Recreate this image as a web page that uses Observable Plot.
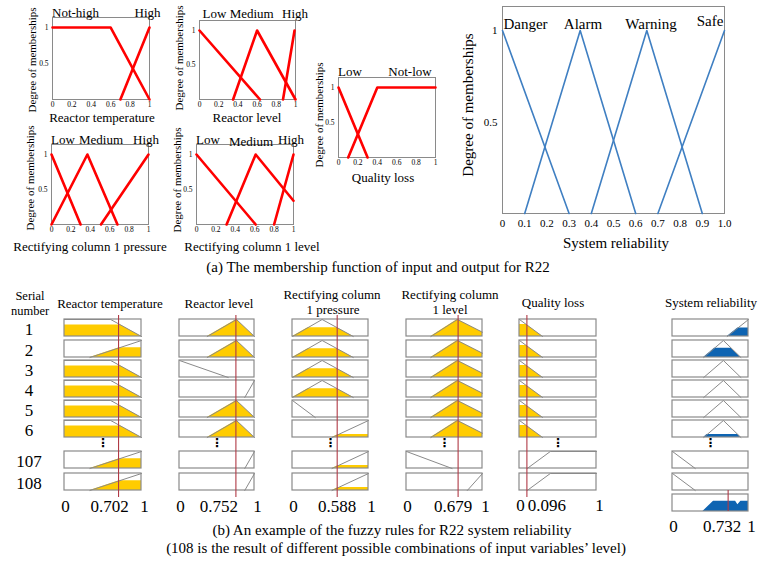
<!DOCTYPE html>
<html><head><meta charset="utf-8">
<script src="https://cdn.jsdelivr.net/npm/d3@7"></script>
<script src="https://cdn.jsdelivr.net/npm/@observablehq/plot@0.6"></script>
<style>
body{margin:0;background:#fff;}
#fig{position:relative;width:760px;height:562px;overflow:hidden;background:#fff;font-family:"Liberation Serif","Times New Roman",serif;color:#000;}
.lbl{position:absolute;white-space:nowrap;line-height:1;transform:translate(-50%,-50%);}
.rot{transform:translate(-50%,-50%) rotate(-90deg);}
svg{position:absolute;}
</style></head><body><div id="fig"></div>
<script>
// ---------------- DATA ----------------
// (a) membership functions: breakpoints {set, x, mu}
const reactorTempSets = ["Not-high", "High"];
const reactorTempMF = [
  {set:"Not-high", x:0, mu:1}, {set:"Not-high", x:0.6, mu:1}, {set:"Not-high", x:1, mu:0},
  {set:"High", x:0.7, mu:0}, {set:"High", x:1, mu:1}
];
const reactorLevelSets = ["Low", "Medium", "High"];
const reactorLevelMF = [
  {set:"Low", x:0, mu:1}, {set:"Low", x:0.63, mu:0},
  {set:"Medium", x:0.35, mu:0}, {set:"Medium", x:0.6, mu:1}, {set:"Medium", x:1, mu:0},
  {set:"High", x:0.87, mu:0}, {set:"High", x:0.99, mu:1}
];
const pressureSets = ["Low", "Medium", "High"];
const pressureMF = [
  {set:"Low", x:0, mu:1}, {set:"Low", x:0.3, mu:0},
  {set:"Medium", x:0, mu:0}, {set:"Medium", x:0.37, mu:1}, {set:"Medium", x:0.68, mu:0},
  {set:"High", x:0.51, mu:0}, {set:"High", x:1, mu:1}
];
const columnLevelSets = ["Low", "Medium", "High"];
const columnLevelMF = [
  {set:"Low", x:0, mu:1}, {set:"Low", x:0.61, mu:0},
  {set:"Medium", x:0.31, mu:0}, {set:"Medium", x:0.61, mu:1}, {set:"Medium", x:1, mu:0.34},
  {set:"High", x:0.8, mu:0}, {set:"High", x:1, mu:1}
];
const qualitySets = ["Low", "Not-low"];
const qualityMF = [
  {set:"Low", x:0, mu:1}, {set:"Low", x:0.3, mu:0},
  {set:"Not-low", x:0.1, mu:0}, {set:"Not-low", x:0.4, mu:1}, {set:"Not-low", x:1, mu:1}
];
const systemSets = ["Danger", "Alarm", "Warning", "Safe"];
const systemMF = [
  {set:"Danger", x:0, mu:1}, {set:"Danger", x:0.3, mu:0},
  {set:"Alarm", x:0.1, mu:0}, {set:"Alarm", x:0.35, mu:1}, {set:"Alarm", x:0.6, mu:0},
  {set:"Warning", x:0.4, mu:0}, {set:"Warning", x:0.65, mu:1}, {set:"Warning", x:0.9, mu:0},
  {set:"Safe", x:0.7, mu:0}, {set:"Safe", x:1, mu:1}
];
const inputTicks = [0, 0.2, 0.4, 0.6, 0.8, 1];
const inputTickLabels = ["0", "0.2", "0.4", "0.6", "0.8", "1"];
const systemTicks = [0, 0.1, 0.2, 0.3, 0.4, 0.5, 0.6, 0.7, 0.8, 0.9, 1];
const systemTickLabels = ["0", "0.1", "0.2", "0.3", "0.4", "0.5", "0.6", "0.7", "0.8", "0.9", "1.0"];
const degreeTicks = [0.5, 1];
const degreeTickLabels = ["0.5", "1"];

// (b) rule viewer
const serialNumbers = ["1", "2", "3", "4", "5", "6", "107", "108"];
const inputValues = [0.702, 0.752, 0.588, 0.679, 0.096];
const inputValueLabels = ["0.702", "0.752", "0.588", "0.679", "0.096"];
const outputValue = 0.732;
const outputValueLabel = "0.732";

const rvTempMF = [
  {set:"Not-high", x:0, mu:1}, {set:"Not-high", x:0.6, mu:1}, {set:"Not-high", x:1, mu:0},
  {set:"High", x:0.33, mu:0}, {set:"High", x:1, mu:1}
];
const rvTempRules = ["Not-high", "High", "Not-high", "Not-high", "Not-high", "Not-high", "High", "High"];
const rvTempDegree = [0.68, 0.57, 0.68, 0.68, 0.68, 0.68, 0.57, 0.57];

const rvLevelMF = [
  {set:"Low", x:0, mu:1}, {set:"Low", x:0.65, mu:0},
  {set:"Medium", x:0.37, mu:0}, {set:"Medium", x:0.76, mu:1}, {set:"Medium", x:1, mu:0},
  {set:"High", x:0.87, mu:0}, {set:"High", x:1, mu:1}
];
const rvLevelRules = ["Medium", "Medium", "Low", "High", "Medium", "Medium", "High", "High"];
const rvLevelDegree = [1, 1, 0, 0, 1, 1, 0, 0];

const rvPressureMF = [
  {set:"Low", x:0, mu:1}, {set:"Low", x:0.3, mu:0},
  {set:"Medium", x:0, mu:0}, {set:"Medium", x:0.39, mu:1}, {set:"Medium", x:0.8, mu:0},
  {set:"High", x:0.52, mu:0}, {set:"High", x:1, mu:1}
];
const rvPressureRules = ["Medium", "Medium", "Medium", "Medium", "Low", "High", "High", "High"];
const rvPressureDegree = [0.52, 0.52, 0.52, 0.52, 0, 0.18, 0.18, 0.18];

const rvColumnLevelMF = [
  {set:"Low", x:0, mu:1}, {set:"Low", x:0.6, mu:0},
  {set:"Medium", x:0.32, mu:0}, {set:"Medium", x:0.67, mu:1}, {set:"Medium", x:1, mu:0.25},
  {set:"High", x:0.8, mu:0}, {set:"High", x:1, mu:1}
];
const rvColumnLevelRules = ["Medium", "Medium", "Medium", "Medium", "Medium", "Medium", "Low", "High"];
const rvColumnLevelDegree = [1, 1, 1, 1, 1, 1, 0, 0];

const rvQualityMF = [
  {set:"Low", x:0, mu:1}, {set:"Low", x:0.3, mu:0},
  {set:"Not-low", x:0.1, mu:0}, {set:"Not-low", x:0.4, mu:1}, {set:"Not-low", x:1, mu:1}
];
const rvQualityRules = ["Low", "Low", "Low", "Low", "Low", "Low", "Not-low", "Not-low"];
const rvQualityDegree = [0.7, 0.7, 0.7, 0.7, 0.7, 0.7, 0, 0];

const rvSystemMF = [
  {set:"Danger", x:0, mu:1}, {set:"Danger", x:0.3, mu:0},
  {set:"Warning", x:0.41, mu:0}, {set:"Warning", x:0.67, mu:1}, {set:"Warning", x:0.9, mu:0},
  {set:"Safe", x:0.72, mu:0}, {set:"Safe", x:1, mu:1}
];
const rvSystemRules = ["Safe", "Warning", "Warning", "Warning", "Warning", "Warning", "Danger", "Danger"];
const rvSystemDegree = [0.5, 0.55, 0, 0, 0, 0.17, 0, 0];
const systemAggregate = [
  {x:0.40, mu:0}, {x:0.54, mu:0.6}, {x:0.83, mu:0.6}, {x:0.86, mu:0.4},
  {x:0.90, mu:0.6}, {x:1, mu:0.6}
];

// ---------------- LAYOUT / STYLE ----------------
const FONT = '"Liberation Serif","Times New Roman",serif';
const RED = "#ff0000", BLUE = "#3f7fc2", YELLOW = "#ffcc00", DEEPBLUE = "#0e64b2";
const GRAY = "#8a8a8a", RULE = "#b03a46";
const fig = document.getElementById("fig");

function T(text, x, y, size, rot) {
  const d = document.createElement("div");
  d.className = "lbl" + (rot ? " rot" : "");
  d.textContent = text;
  d.style.left = x + "px"; d.style.top = y + "px"; d.style.fontSize = size + "px";
  fig.appendChild(d);
}
function put(svg, left, top) {
  svg.style.left = left + "px"; svg.style.top = top + "px";
  fig.appendChild(svg);
}

// ---- (a) panels ----
function mfPanel(data, o) {
  const ml = 34, mr = 10, mt = 2, mb = 20;
  const svg = Plot.plot({
    width: o.w + ml + mr, height: o.h + mt + mb,
    marginLeft: ml, marginRight: mr, marginTop: mt, marginBottom: mb,
    x: {domain: [0, 1], label: null}, y: {domain: [0, o.yTop], label: null},
    style: {background: "transparent", overflow: "visible", fontFamily: FONT},
    marks: [
      Plot.frame({stroke: GRAY, strokeWidth: 1}),
      Plot.axisX({ticks: o.xTicks, tickFormat: d => o.xLabels[o.xTicks.indexOf(d)], tickSize: 0,
        tickPadding: o.xPad, fontSize: o.tickFont, fontFamily: FONT, label: null}),
      Plot.axisY({ticks: degreeTicks, tickFormat: d => degreeTickLabels[degreeTicks.indexOf(d)], tickSize: 0,
        tickPadding: o.yPad, fontSize: o.tickFont, fontFamily: FONT, label: null}),
      Plot.line(data, {x: "x", y: "mu", z: "set", stroke: o.color, strokeWidth: o.sw})
    ]
  });
  put(svg, o.x - ml, o.y - mt);
}
const small = {xTicks: inputTicks, xLabels: inputTickLabels, xPad: 2, yPad: 4, tickFont: 7.5, color: RED, sw: 2.6};
mfPanel(reactorTempMF, {...small, x: 52, y: 17, w: 97, h: 82, yTop: 1.14});
mfPanel(reactorLevelMF, {...small, x: 199, y: 20, w: 96, h: 79, yTop: 1.145});
mfPanel(pressureMF, {...small, x: 51, y: 144, w: 97, h: 80, yTop: 1.143});
mfPanel(columnLevelMF, {...small, x: 196, y: 144, w: 97, h: 80, yTop: 1.143});
mfPanel(qualityMF, {...small, x: 338, y: 77, w: 97, h: 80, yTop: 1.143});
mfPanel(systemMF, {xTicks: systemTicks, xLabels: systemTickLabels, xPad: 6, yPad: 5, tickFont: 11,
  color: BLUE, sw: 1.6, x: 502, y: 6, w: 222, h: 207, yTop: 1.131});

// (a) texts
T(reactorTempSets[0], 75.5, 12, 13); T(reactorTempSets[1], 147.5, 12, 13);
T("Reactor temperature", 102, 117, 13); T("Degree of memberships", 32, 60, 11, true);
T(reactorLevelSets[0], 214.5, 13, 13); T(reactorLevelSets[1], 251.7, 13, 13); T(reactorLevelSets[2], 295, 13, 13);
T("Reactor level", 247, 117, 13); T("Degree of memberships", 179, 58, 11, true);
T(pressureSets[0], 63, 139, 13); T(pressureSets[1], 101, 139, 13); T(pressureSets[2], 146, 139, 13);
T("Rectifying column 1 pressure", 90, 246, 13); T("Degree of memberships", 30, 178, 11, true);
T(columnLevelSets[0], 208, 139, 13); T(columnLevelSets[1], 251, 141, 13); T(columnLevelSets[2], 291, 139, 13);
T("Rectifying column 1 level", 252, 246, 13); T("Degree of memberships", 177, 180, 11, true);
T(qualitySets[0], 350, 71, 13); T(qualitySets[1], 410, 71, 13);
T("Quality loss", 383, 177, 13); T("Degree of memberships", 319, 115, 11, true);
T(systemSets[0], 525.5, 24, 15); T(systemSets[1], 583, 24, 15); T(systemSets[2], 651, 24, 15); T(systemSets[3], 710, 21, 15);
T("System reliability", 616, 243, 15); T("Degree of memberships", 468, 105, 15, true);
T("(a) The membership function of input and output for R22", 378, 267, 15);

// ---- (b) rule viewer ----
const P0 = 300, P1 = 540, BOXH = 17;
const rowTops = [319, 340, 360, 380, 400, 420, 451, 473];
const aggTop = 494;
const off = top => (P1 - (top + BOXH)) / BOXH;
const ypx = py => (P1 - py) / BOXH;

function clip(pts, s) {
  const out = [];
  pts.forEach((p, i) => {
    if (i > 0) {
      const q = pts[i - 1];
      if ((q.mu - s) * (p.mu - s) < 0) {
        const t = (s - q.mu) / (p.mu - q.mu);
        out.push({x: q.x + t * (p.x - q.x), mu: s});
      }
    }
    out.push({x: p.x, mu: Math.min(p.mu, s)});
  });
  return out;
}

function ruleColumn(o) {
  const [l, r] = o.box;
  const lines = [], fills = [], boxes = [];
  o.rules.forEach((s, i) => {
    const base = off(rowTops[i]);
    boxes.push({y1: base, y2: base + 1});
    const pts = o.mf.filter(d => d.set === s);
    pts.forEach(p => lines.push({row: i, x: p.x, y: base + p.mu}));
    if (o.degree[i] > 0)
      clip(pts, o.degree[i]).forEach(p => fills.push({row: i, x: p.x, y1: base, y2: base + p.mu}));
  });
  if (o.aggregate) {
    const base = off(aggTop);
    boxes.push({y1: base, y2: base + 1});
    o.aggregate.forEach(p => fills.push({row: 99, x: p.x, y1: base, y2: base + p.mu}));
  }
  const ml = 40, mr = 40;
  const marks = [
    Plot.areaY(fills, {x: "x", y1: "y1", y2: "y2", z: "row", fill: o.fill}),
    Plot.line(lines, {x: "x", y: "y", z: "row", stroke: GRAY, strokeWidth: 1}),
    Plot.rect(boxes, {x1: () => 0, x2: () => 1, y1: "y1", y2: "y2", fill: "none", stroke: GRAY, strokeWidth: 1.2}),
    Plot.ruleX([o.value], {x: d => d, y1: () => ypx(o.ruleTop), y2: () => ypx(o.ruleBottom), stroke: RULE, strokeWidth: 1.1}),
    Plot.text(["⋮"], {x: () => 0.5, y: () => ypx(443), fontSize: 12, fontWeight: "bold", fontFamily: "DejaVu Sans", fill: "#000"}),
    Plot.text(["0"], {x: () => 0, y: () => ypx(o.tickY), fontSize: 17, dx: 1}),
    Plot.text([o.valueLabel], {x: () => o.value, y: () => ypx(o.tickY), fontSize: 17, dx: o.valueDx}),
    Plot.text(["1"], {x: () => 1, y: () => ypx(o.tickY), fontSize: 17, dx: 3})
  ];
  const svg = Plot.plot({
    width: (r - l) + ml + mr, height: P1 - P0,
    marginLeft: ml, marginRight: mr, marginTop: 0, marginBottom: 0,
    x: {domain: [0, 1]}, y: {domain: [0, (P1 - P0) / BOXH]}, axis: null,
    style: {background: "transparent", overflow: "visible", fontFamily: FONT, color: "#000"},
    marks
  });
  put(svg, l - ml, P0);
}

ruleColumn({box: [64, 141], mf: rvTempMF, rules: rvTempRules, degree: rvTempDegree, fill: YELLOW,
  value: inputValues[0], valueLabel: inputValueLabels[0], valueDx: -9, ruleTop: 315, ruleBottom: 497, tickY: 506});
ruleColumn({box: [179, 254], mf: rvLevelMF, rules: rvLevelRules, degree: rvLevelDegree, fill: YELLOW,
  value: inputValues[1], valueLabel: inputValueLabels[1], valueDx: -17, ruleTop: 315, ruleBottom: 497, tickY: 506});
ruleColumn({box: [292, 368], mf: rvPressureMF, rules: rvPressureRules, degree: rvPressureDegree, fill: YELLOW,
  value: inputValues[2], valueLabel: inputValueLabels[2], valueDx: 0, ruleTop: 315, ruleBottom: 497, tickY: 506});
ruleColumn({box: [406, 482], mf: rvColumnLevelMF, rules: rvColumnLevelRules, degree: rvColumnLevelDegree, fill: YELLOW,
  value: inputValues[3], valueLabel: inputValueLabels[3], valueDx: -5, ruleTop: 315, ruleBottom: 497, tickY: 506});
ruleColumn({box: [519, 596], mf: rvQualityMF, rules: rvQualityRules, degree: rvQualityDegree, fill: YELLOW,
  value: inputValues[4], valueLabel: inputValueLabels[4], valueDx: 20, ruleTop: 315, ruleBottom: 497, tickY: 505});
ruleColumn({box: [672, 748], mf: rvSystemMF, rules: rvSystemRules, degree: rvSystemDegree, fill: DEEPBLUE,
  aggregate: systemAggregate,
  value: outputValue, valueLabel: outputValueLabel, valueDx: -6, ruleTop: 490, ruleBottom: 511, tickY: 526});

// (b) texts
T("Serial", 30, 296, 12.5); T("number", 30, 311, 12.5);
serialNumbers.forEach((s, i) => T(s, 29, rowTops[i] + 10, 17));
T("Reactor temperature", 110, 303, 13);
T("Reactor level", 219, 303, 13);
T("Rectifying column", 332, 294, 13); T("1 pressure", 333, 309, 13);
T("Rectifying column", 450, 294, 13); T("1 level", 450, 309, 13);
T("Quality loss", 553, 302, 13);
T("System reliability", 711, 302, 13);
T("(b) An example of the fuzzy rules for R22 system reliability", 392, 530, 15);
T("(108 is the result of different possible combinations of input variables\u2019 level)", 396, 548, 15);
</script></body></html>
